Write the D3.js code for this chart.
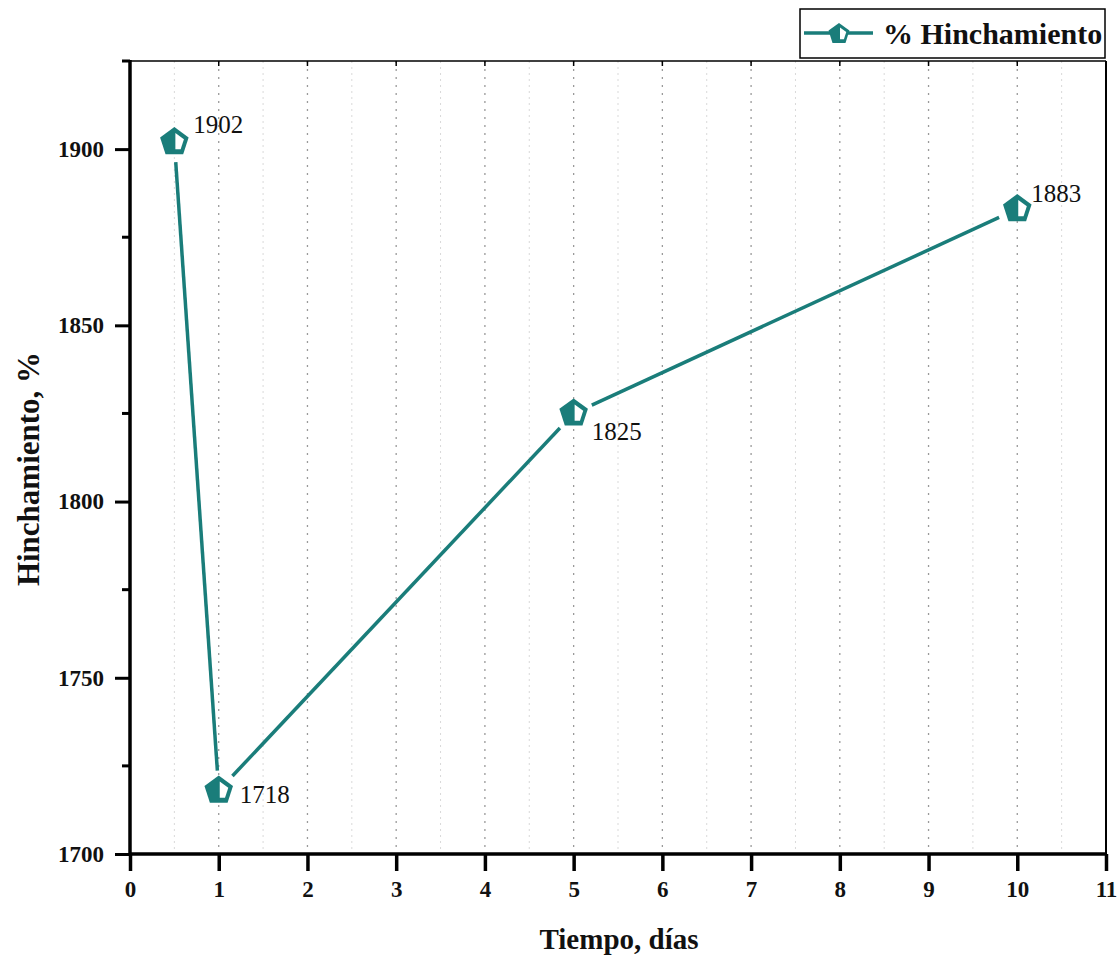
<!DOCTYPE html>
<html><head><meta charset="utf-8">
<script src="https://cdn.jsdelivr.net/npm/d3@7/dist/d3.min.js"></script>
<style>body{margin:0;background:#fff}svg{display:block}</style>
</head><body>
<svg id="c" width="1119" height="956"></svg>
<script>
const days = [0.5, 1, 5, 10];
const swelling = [1902, 1718, 1825, 1883];
const valueLabels = ["1902", "1718", "1825", "1883"];
const xTicks = [0,1,2,3,4,5,6,7,8,9,10,11];
const yTicks = [1700,1750,1800,1850,1900];
const seriesName = "% Hinchamiento";
const xTitle = "Tiempo, días";
const yTitle = "Hinchamiento, %";
// label offsets (px) relative to marker
const labelOffsets = [[19,-9],[21,12],[18,27],[14,-7]];

const color = "#1a7d7a";
const svg = d3.select("#c");
const m = {l:130, r:1106, t:61, b:854};
const x = d3.scaleLinear().domain([0,11]).range([m.l, m.r]);
const y = d3.scaleLinear().domain([1700,1925]).range([m.b, m.t]);
const serif = "'Liberation Serif','Times New Roman',serif";

// grid
const minorX = d3.range(0.5, 11, 1);
svg.append("g").selectAll("line").data(minorX).join("line")
  .attr("x1", d=>x(d)).attr("x2", d=>x(d)).attr("y1", m.t).attr("y2", m.b)
  .attr("stroke", "#d9d9d9").attr("stroke-width", 1).attr("stroke-dasharray", "2,4");
svg.append("g").selectAll("line").data(xTicks.filter(d=>d>0&&d<11)).join("line")
  .attr("x1", d=>x(d)).attr("x2", d=>x(d)).attr("y1", m.t).attr("y2", m.b)
  .attr("stroke", "#9a9a9a").attr("stroke-width", 1.3).attr("stroke-dasharray", "2,6");

// frame top/right
svg.append("line").attr("x1", m.l).attr("x2", m.r).attr("y1", m.t).attr("y2", m.t).attr("stroke","#000").attr("stroke-width",1.5);
svg.append("line").attr("x1", m.r).attr("x2", m.r).attr("y1", m.t).attr("y2", m.b).attr("stroke","#000").attr("stroke-width",2);
// top inward ticks
svg.append("g").selectAll("line").data(xTicks.slice(1,11)).join("line")
  .attr("x1", d=>x(d)).attr("x2", d=>x(d)).attr("y1", m.t).attr("y2", m.t+5)
  .attr("stroke","#000").attr("stroke-width",1.5);

// axes
const xAxis = d3.axisBottom(x).tickValues(xTicks).tickFormat(d3.format("d")).tickSize(17).tickPadding(10);
const gx = svg.append("g").attr("transform", `translate(0,${m.b})`).call(xAxis);
gx.select(".domain").attr("stroke-width", 3.5).attr("d", `M${m.l-1},0H${m.r+1}`);
gx.selectAll(".tick line").attr("stroke-width", 3.5);
gx.selectAll("text").attr("font-family", serif).attr("font-weight","bold").attr("font-size", 23).attr("fill","#111");

const yAxis = d3.axisLeft(y).tickValues(yTicks).tickFormat(d3.format("d")).tickSize(15).tickPadding(11);
const gy = svg.append("g").attr("transform", `translate(${m.l},0)`).call(yAxis);
gy.select(".domain").attr("stroke-width", 3.5).attr("d", `M0,${m.t-1}V${m.b+1}`);
gy.selectAll(".tick line").attr("stroke-width", 3);
gy.selectAll("text").attr("font-family", serif).attr("font-weight","bold").attr("font-size", 23).attr("fill","#111");
// minor y ticks
svg.append("g").selectAll("line").data([1725,1775,1825,1875,1925]).join("line")
  .attr("x1", m.l-8).attr("x2", m.l).attr("y1", d=>y(d)).attr("y2", d=>y(d))
  .attr("stroke","#000").attr("stroke-width",3);

// titles
svg.append("text").attr("x", 619).attr("y", 949).attr("text-anchor","middle")
  .attr("font-family", serif).attr("font-weight","bold").attr("font-size", 29).attr("fill","#111").text(xTitle);
svg.append("text").attr("transform", "translate(39,469) rotate(-90)").attr("text-anchor","middle")
  .attr("font-family", serif).attr("font-weight","bold").attr("font-size", 31).attr("fill","#111").text(yTitle);

// pentagon marker
function pent(r){
  return d3.range(5).map(i=>{const a=-Math.PI/2 + i*2*Math.PI/5; return [r*Math.cos(a), r*Math.sin(a)];});
}
function drawMarker(g, cx, cy, r){
  const gg = g.append("g").attr("transform", `translate(${cx},${cy})`);
  gg.append("polygon").attr("points", pent(r).map(p=>p.join(",")).join(" ")).attr("fill", color);
  const ri = r*0.6;
  const inner = pent(ri);
  const pts = [[0, -ri], inner[1], inner[2], [0, inner[2][1]]];
  gg.append("polygon").attr("points", pts.map(p=>p.join(",")).join(" ")).attr("fill", "#fff").attr("transform","translate(1,0)");
}

const pts = days.map((d,i)=>[x(d), y(swelling[i])]);
const gap = 20;
const lg = svg.append("g");
for (let i=0;i<pts.length-1;i++){
  const [x1,y1]=pts[i],[x2,y2]=pts[i+1];
  const L = Math.hypot(x2-x1,y2-y1), ux=(x2-x1)/L, uy=(y2-y1)/L;
  lg.append("line").attr("x1", x1+ux*gap).attr("y1", y1+uy*gap).attr("x2", x2-ux*gap).attr("y2", y2-uy*gap)
    .attr("stroke", color).attr("stroke-width", 3.5);
}
const mg = svg.append("g");
pts.forEach(p=>drawMarker(mg, p[0], p[1], 15));
svg.append("g").selectAll("text").data(pts).join("text")
  .attr("x", (d,i)=>d[0]+labelOffsets[i][0]).attr("y", (d,i)=>d[1]+labelOffsets[i][1])
  .attr("font-family", serif).attr("font-size", 25).attr("fill","#111").text((d,i)=>valueLabels[i]);

// legend
const leg = svg.append("g");
leg.append("rect").attr("x", 800).attr("y", 9).attr("width", 305).attr("height", 49).attr("fill","#fff").attr("stroke","#000").attr("stroke-width",1.5);
leg.append("line").attr("x1", 804).attr("x2", 873).attr("y1", 33).attr("y2", 33).attr("stroke", color).attr("stroke-width", 3.5);
drawMarker(leg, 839, 34, 11);
leg.append("text").attr("x", 883).attr("y", 44).attr("font-family", serif).attr("font-weight","bold").attr("font-size", 30).attr("fill","#111").text(seriesName);
</script>
</body></html>
